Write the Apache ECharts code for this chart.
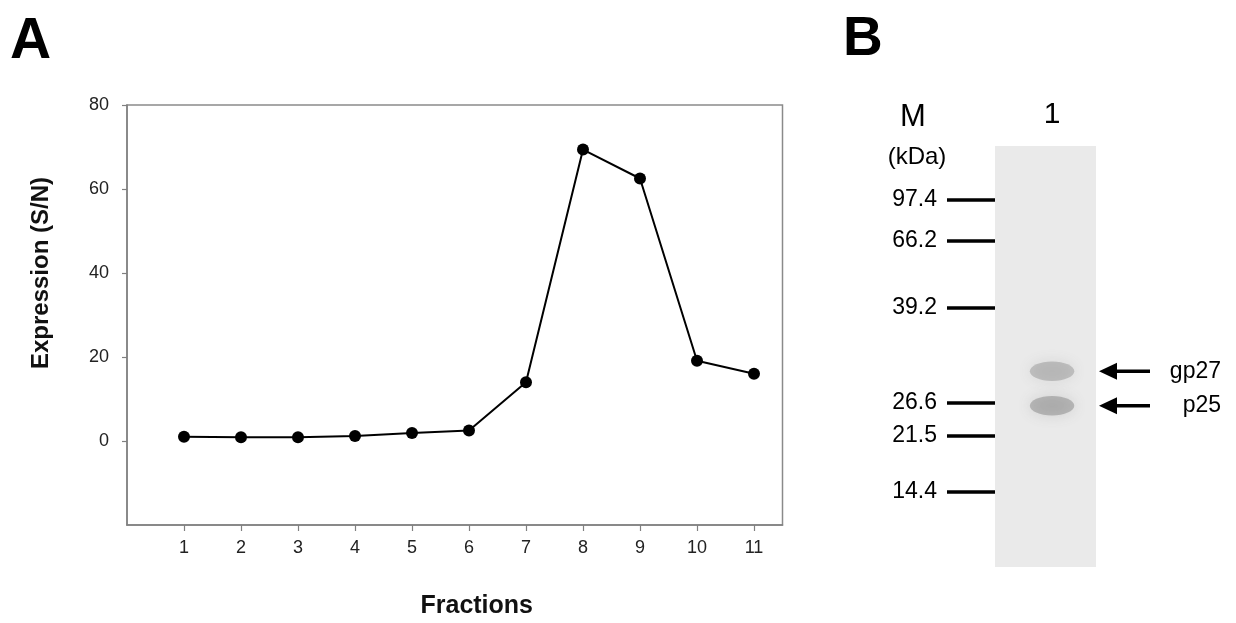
<!DOCTYPE html>
<html><head><meta charset="utf-8">
<script src="https://cdn.jsdelivr.net/npm/echarts@6/dist/echarts.min.js"></script>
<style>html,body{margin:0;padding:0;background:#fff}#c{width:1236px;height:623px}</style>
</head><body><div id="c"></div>
<script>
// Panel A data
const fractions = [1, 2, 3, 4, 5, 6, 7, 8, 9, 10, 11];
const expression = [1.0, 0.9, 0.9, 1.2, 1.9, 2.5, 14.0, 69.4, 62.5, 19.1, 16.0];
const yTickLabels = [0, 20, 40, 60, 80];
// Panel B data (migration as fraction of gel length)
const markerLabels = ['97.4', '66.2', '39.2', '26.6', '21.5', '14.4'];
const markerMigration = [0.127, 0.226, 0.384, 0.610, 0.689, 0.822];
const bandNames = ['gp27', 'p25'];
const bandMigration = [0.535, 0.617];
const bandIntensity = [0.30, 0.36];
const laneLabels = ['1'];
const laneCenter = [0.565];

const FONT = 'Liberation Sans, Arial, sans-serif';
const chart = echarts.init(document.getElementById('c'), null, {renderer: 'canvas'});

const option = {
  backgroundColor: '#fff',
  animation: false,
  grid: [
    {left: 127, top: 105, width: 655.5, height: 420, show: true, borderColor: '#8a8a8a', borderWidth: 1.5, backgroundColor: 'transparent', containLabel: false, outerBoundsMode: 'none'},
    {left: 995, top: 146, width: 101, height: 421, show: true, borderWidth: 0, backgroundColor: '#eaeaea', containLabel: false, outerBoundsMode: 'none'}
  ],
  xAxis: [
    {
      gridIndex: 0, type: 'value', min: 0, max: 11.5, interval: 1,
      name: 'Fractions', nameLocation: 'middle', nameGap: 69,
      nameTextStyle: {fontFamily: FONT, fontWeight: 'bold', fontSize: 25, color: '#111', padding: [0, 0, 0, 44]},
      axisLine: {show: true, onZero: false, lineStyle: {color: '#808080', width: 1.5}},
      axisTick: {show: true, inside: false, length: 6, customValues: fractions, lineStyle: {color: '#808080', width: 1.2}},
      axisLabel: {show: true, customValues: fractions, margin: 14, fontFamily: FONT, fontSize: 18, color: '#222'},
      splitLine: {show: false}
    },
    {
      gridIndex: 1, type: 'value', min: 0, max: 1, position: 'top',
      axisLine: {show: false}, axisTick: {show: false}, splitLine: {show: false},
      axisLabel: {show: true, customValues: laneCenter, formatter: v => laneLabels[laneCenter.indexOf(v)] || '', margin: 16, fontFamily: FONT, fontSize: 30, color: '#000'}
    }
  ],
  yAxis: [
    {
      gridIndex: 0, type: 'value', min: -20, max: 80, interval: 20,
      name: 'Expression (S/N)', nameLocation: 'middle', nameRotate: 90, nameGap: 74,
      nameTextStyle: {fontFamily: FONT, fontWeight: 'bold', fontSize: 24, color: '#111', padding: [0, 0, 0, 84]},
      axisLine: {show: true, onZero: false, lineStyle: {color: '#808080', width: 1.5}},
      axisTick: {show: true, inside: false, length: 5, customValues: yTickLabels, lineStyle: {color: '#808080', width: 1.2}},
      axisLabel: {show: true, customValues: yTickLabels, margin: 18, fontFamily: FONT, fontSize: 18, color: '#222'},
      splitLine: {show: false}
    },
    {
      gridIndex: 1, type: 'value', min: 0, max: 1, inverse: true,
      axisLine: {show: false}, splitLine: {show: false},
      axisTick: {show: true, inside: false, length: 48, customValues: markerMigration, lineStyle: {color: '#000', width: 3.5}},
      axisLabel: {show: true, customValues: markerMigration, formatter: v => markerLabels[markerMigration.indexOf(v)] || '', margin: 58, fontFamily: FONT, fontSize: 23, color: '#000'}
    }
  ],
  graphic: [
    {type: 'text', left: 10, top: 14, style: {text: 'A', font: 'bold 57px ' + FONT, fill: '#000'}},
    {type: 'text', left: 843, top: 12, style: {text: 'B', font: 'bold 55px ' + FONT, fill: '#000'}},
    {type: 'text', x: 913, y: 117, style: {text: 'M', font: '31px ' + FONT, fill: '#000', align: 'center', verticalAlign: 'middle'}},
    {type: 'text', x: 917, y: 157, style: {text: '(kDa)', font: '24px ' + FONT, fill: '#000', align: 'center', verticalAlign: 'middle'}}
  ],
  series: [
    {
      type: 'line', xAxisIndex: 0, yAxisIndex: 0,
      data: fractions.map((f, i) => [f, expression[i]]),
      symbol: 'circle', symbolSize: 12,
      lineStyle: {color: '#000', width: 2},
      itemStyle: {color: '#000'}
    },
    {
      type: 'custom', xAxisIndex: 1, yAxisIndex: 1, clip: false,
      data: bandMigration.map((m, i) => [laneCenter[0], m, bandIntensity[i]]),
      renderItem: function (params, api) {
        const i = params.dataIndex;
        const c = api.coord([api.value(0), api.value(1)]);
        const right = api.coord([1, api.value(1)])[0];
        const sz = api.size([0.44, 0.046]);
        const a = api.value(2);
        const x0 = right + 3;
        return {
          type: 'group',
          children: [
            {type: 'ellipse', shape: {cx: c[0], cy: c[1], rx: sz[0] / 2, ry: sz[1] / 2},
             style: {fill: 'rgba(100,100,100,' + a + ')', shadowBlur: 14, shadowColor: 'rgba(100,100,100,' + (a + 0.15) + ')'}},
            {type: 'polygon', shape: {points: [[x0, c[1]], [x0 + 18, c[1] - 8.5], [x0 + 18, c[1] + 8.5]]}, style: {fill: '#000'}},
            {type: 'line', shape: {x1: x0 + 16, y1: c[1], x2: x0 + 51, y2: c[1]}, style: {stroke: '#000', lineWidth: 3.5}},
            {type: 'text', x: 1221, y: c[1], style: {text: bandNames[i], font: '23px ' + FONT, fill: '#000', align: 'right', verticalAlign: 'middle'}}
          ]
        };
      }
    }
  ]
};
chart.setOption(option);
</script>
</body></html>
